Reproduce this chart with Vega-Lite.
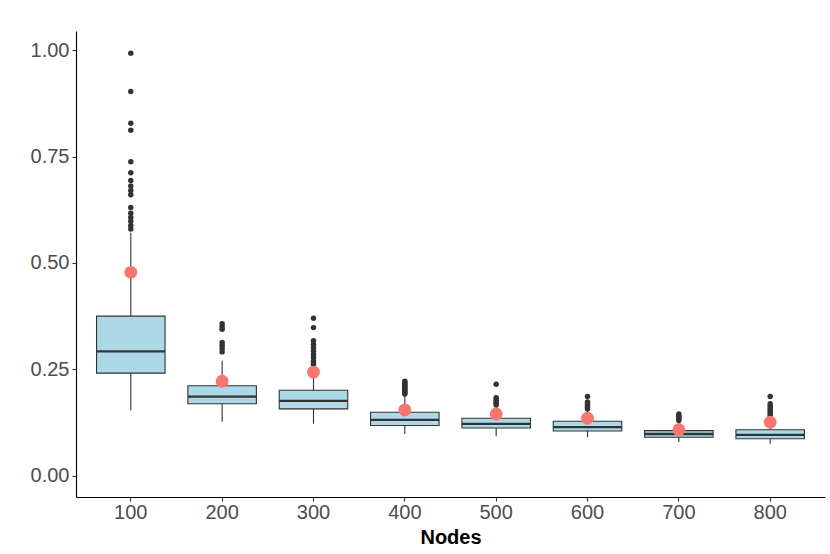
{
  "$schema": "https://vega.github.io/schema/vega-lite/v6.json",
  "autosize": {"type": "none"},
  "width": 749,
  "height": 466,
  "padding": {"left": 76, "top": 31, "right": 5, "bottom": 57},
  "background": "white",
  "config": {
    "view": {"stroke": null},
    "font": "Liberation Sans",
    "axis": {
      "grid": false,
      "domainColor": "#000000",
      "domainWidth": 1.1,
      "tickColor": "#333333",
      "tickWidth": 1.1,
      "tickSize": 4,
      "labelColor": "#4D4D4D",
      "labelFontSize": 20,
      "labelFont": "Liberation Sans",
      "titleFont": "Liberation Sans"
    }
  },
  "datasets": {
    "boxes": [
      {"Nodes": "100", "lower": 0.153, "q1": 0.241, "median": 0.292, "q3": 0.375, "upper": 0.571, "mean": 0.478},
      {"Nodes": "200", "lower": 0.127, "q1": 0.169, "median": 0.186, "q3": 0.2115, "upper": 0.270, "mean": 0.222},
      {"Nodes": "300", "lower": 0.122, "q1": 0.157, "median": 0.176, "q3": 0.2007, "upper": 0.255, "mean": 0.2435},
      {"Nodes": "400", "lower": 0.098, "q1": 0.118, "median": 0.131, "q3": 0.149, "upper": 0.188, "mean": 0.1545},
      {"Nodes": "500", "lower": 0.093, "q1": 0.112, "median": 0.122, "q3": 0.135, "upper": 0.162, "mean": 0.145},
      {"Nodes": "600", "lower": 0.0905, "q1": 0.105, "median": 0.114, "q3": 0.128, "upper": 0.152, "mean": 0.135},
      {"Nodes": "700", "lower": 0.079, "q1": 0.0905, "median": 0.098, "q3": 0.106, "upper": 0.127, "mean": 0.108},
      {"Nodes": "800", "lower": 0.075, "q1": 0.0867, "median": 0.096, "q3": 0.108, "upper": 0.136, "mean": 0.1256}
    ],
    "outliers": [
      {"Nodes": "100", "value": 0.993}, {"Nodes": "100", "value": 0.903}, {"Nodes": "100", "value": 0.828},
      {"Nodes": "100", "value": 0.812}, {"Nodes": "100", "value": 0.738}, {"Nodes": "100", "value": 0.712},
      {"Nodes": "100", "value": 0.694}, {"Nodes": "100", "value": 0.681}, {"Nodes": "100", "value": 0.670},
      {"Nodes": "100", "value": 0.660}, {"Nodes": "100", "value": 0.630}, {"Nodes": "100", "value": 0.617},
      {"Nodes": "100", "value": 0.607}, {"Nodes": "100", "value": 0.598}, {"Nodes": "100", "value": 0.588},
      {"Nodes": "100", "value": 0.580},
      {"Nodes": "200", "value": 0.357}, {"Nodes": "200", "value": 0.350}, {"Nodes": "200", "value": 0.344},
      {"Nodes": "200", "value": 0.313}, {"Nodes": "200", "value": 0.306}, {"Nodes": "200", "value": 0.299},
      {"Nodes": "200", "value": 0.291},
      {"Nodes": "300", "value": 0.370}, {"Nodes": "300", "value": 0.348}, {"Nodes": "300", "value": 0.317},
      {"Nodes": "300", "value": 0.309}, {"Nodes": "300", "value": 0.301}, {"Nodes": "300", "value": 0.293},
      {"Nodes": "300", "value": 0.285}, {"Nodes": "300", "value": 0.277}, {"Nodes": "300", "value": 0.269},
      {"Nodes": "300", "value": 0.262},
      {"Nodes": "400", "value": 0.222}, {"Nodes": "400", "value": 0.219}, {"Nodes": "400", "value": 0.216},
      {"Nodes": "400", "value": 0.213}, {"Nodes": "400", "value": 0.210}, {"Nodes": "400", "value": 0.207},
      {"Nodes": "400", "value": 0.204}, {"Nodes": "400", "value": 0.201}, {"Nodes": "400", "value": 0.198},
      {"Nodes": "400", "value": 0.195}, {"Nodes": "400", "value": 0.192},
      {"Nodes": "500", "value": 0.215}, {"Nodes": "500", "value": 0.183}, {"Nodes": "500", "value": 0.178},
      {"Nodes": "500", "value": 0.174}, {"Nodes": "500", "value": 0.170}, {"Nodes": "500", "value": 0.166},
      {"Nodes": "600", "value": 0.186}, {"Nodes": "600", "value": 0.173}, {"Nodes": "600", "value": 0.169},
      {"Nodes": "600", "value": 0.165}, {"Nodes": "600", "value": 0.161}, {"Nodes": "600", "value": 0.157},
      {"Nodes": "700", "value": 0.145}, {"Nodes": "700", "value": 0.141}, {"Nodes": "700", "value": 0.137},
      {"Nodes": "700", "value": 0.133}, {"Nodes": "700", "value": 0.130},
      {"Nodes": "800", "value": 0.186}, {"Nodes": "800", "value": 0.169}, {"Nodes": "800", "value": 0.164},
      {"Nodes": "800", "value": 0.159}, {"Nodes": "800", "value": 0.154}, {"Nodes": "800", "value": 0.149},
      {"Nodes": "800", "value": 0.144}, {"Nodes": "800", "value": 0.140}
    ]
  },
  "encoding": {
    "x": {
      "field": "Nodes",
      "type": "ordinal",
      "sort": ["100", "200", "300", "400", "500", "600", "700", "800"],
      "scale": {"type": "band", "paddingInner": 0, "paddingOuter": 0.1},
      "axis": {
        "title": "Nodes",
        "labelAngle": 0,
        "labelPadding": 1,
        "titleFontSize": 20,
        "titleFontWeight": "bold",
        "titleColor": "#000000",
        "titlePadding": 5
      }
    }
  },
  "layer": [
    {
      "data": {"name": "boxes"},
      "mark": {"type": "rule", "color": "#333333", "strokeWidth": 1.1},
      "encoding": {
        "y": {
          "field": "lower",
          "type": "quantitative",
          "scale": {"domain": [-0.05, 1.045], "nice": false, "zero": false},
          "axis": {
            "title": null,
            "values": [0, 0.25, 0.5, 0.75, 1],
            "format": ".2f",
            "labelPadding": 3
          }
        },
        "y2": {"field": "upper"}
      }
    },
    {
      "data": {"name": "boxes"},
      "mark": {"type": "bar", "fill": "#ADD8E6", "stroke": "#333333", "strokeWidth": 1.1, "width": {"band": 0.75}},
      "encoding": {
        "y": {"field": "q1", "type": "quantitative"},
        "y2": {"field": "q3"}
      }
    },
    {
      "data": {"name": "boxes"},
      "mark": {"type": "tick", "color": "#333333", "size": 68.5, "thickness": 2.3, "opacity": 1},
      "encoding": {
        "y": {"field": "median", "type": "quantitative"}
      }
    },
    {
      "data": {"name": "outliers"},
      "mark": {"type": "circle", "color": "#333333", "size": 30, "opacity": 1},
      "encoding": {
        "y": {"field": "value", "type": "quantitative"}
      }
    },
    {
      "data": {"name": "boxes"},
      "mark": {"type": "circle", "color": "#F8766D", "size": 165, "opacity": 1},
      "encoding": {
        "y": {"field": "mean", "type": "quantitative"}
      }
    }
  ]
}
